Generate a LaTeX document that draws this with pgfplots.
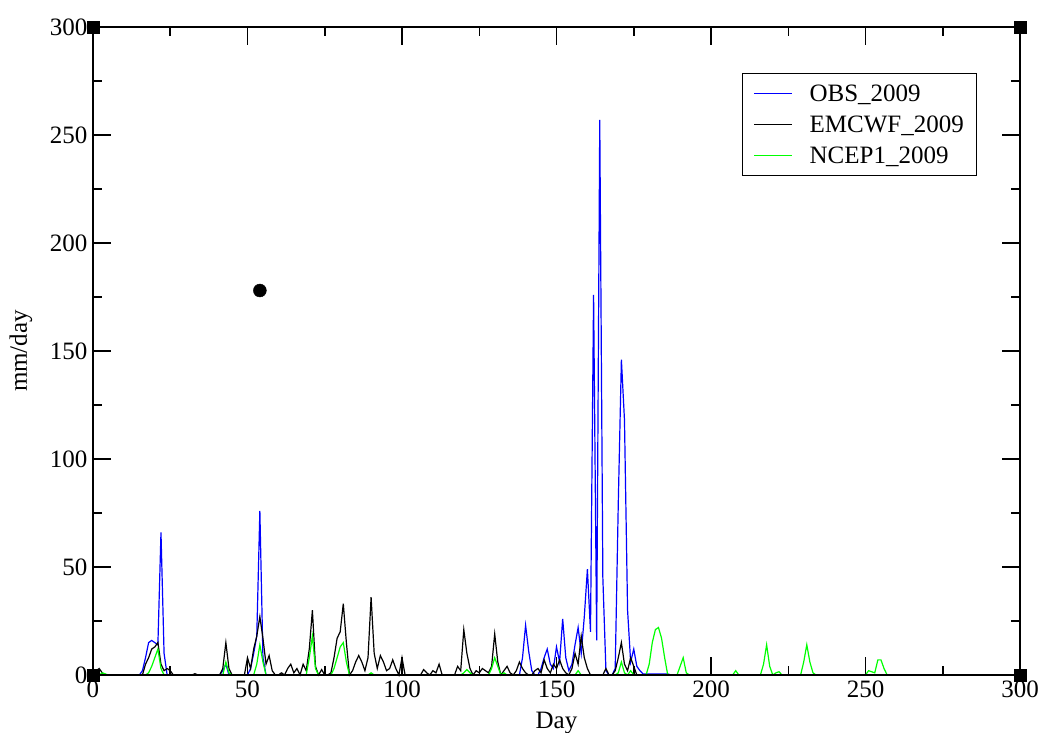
\documentclass[border=0pt]{standalone}
\usepackage{pgfplots}
\pgfplotsset{compat=1.18}
\usepackage{fontspec}
\setmainfont{Liberation Serif}
\begin{document}
\begin{tikzpicture}
\useasboundingbox (-93pt,-58pt) rectangle (949pt,675pt);
\begin{axis}[
  at={(0,0)}, anchor=south west,
  scale only axis, width=927pt, height=648pt,
  xmin=0, xmax=300, ymin=0, ymax=300,
  xtick={0,50,...,300}, ytick={0,50,...,300},
  minor x tick num=1, minor y tick num=1,
  tick align=inside,
  major tick length=18pt, minor tick length=9pt,
  every tick/.style={black, line width=1.5pt},
  axis line style={line width=1.5pt},
  clip=false,
  /pgf/number format/assume math mode=true,
  ticklabel style={font=\fontsize{25}{30}\selectfont},
  xticklabel style={yshift=-2pt},
  yticklabel style={xshift=-2pt},
  label style={font=\fontsize{25}{30}\selectfont},
  xlabel={Day},
  xlabel style={at={(axis description cs:0.5,-0.0818)}, anchor=base},
  ylabel={mm/day},
  ylabel style={at={(axis description cs:-0.0777,0.5)}, anchor=center, rotate=0},
  legend style={at={(axis description cs:0.700,0.929)}, anchor=north west,
    draw=black, line width=1pt, font=\fontsize{25}{30}\selectfont,
    inner xsep=11pt, inner ysep=9pt, row sep=9pt},
  legend cell align=left,
  legend image code/.code={\draw[#1] (0pt,0pt) -- (38pt,0pt);},
]
\addplot[blue, line width=1.2pt] coordinates {
(0,0)(15,0)(16,2)(17,8)(18,15)(19,16)(20,15)(21,14)(22,66)(23,10)(24,0)
(41,0)(42,2)(43,5)(44,0)
(50,0)(51,3)(52,10)(53,18)(54,76)(55,8)(56,0)
(138,0)(139,8)(140,23)(141,11)(142,2)(143,0)(144,0)(145,3)(146,8)(147,12)(148,5)(149,3)(150,13)(151,6)(152,26)(153,8)(154,2)(155,5)(156,14)(157,22)(158,10)(159,27)(160,49)(161,20)(162,176)(163,16)(164,257)(165,45)(166,2)(167,0)(168,0)(169,3)(170,80)(171,146)(172,118)(173,30)(174,6)(175,12)(176,4)(177,2)(178,0.5)(186,0.5)(187,0)(299,0)
};
\addlegendentry{\hspace{15pt}OBS\_2009}
\addplot[black, line width=1.2pt] coordinates {
(0,0)(1,2)(2,3)(3,1)(4,0)
(16,0)(17,5)(18,8)(19,12)(20,13)(21,15)(22,5)(23,2)(24,3)(25,2)(26,0)
(32,0)(33,0.6)(34,0)
(41,0)(42,3)(43,15)(44,3)(45,0)
(49,0)(50,8)(51,3)(52,12)(53,18)(54,27)(55,17)(56,5)(57,9)(58,2)(59,0)(60,0)(61,1)(62,0)(63,3)(64,5)(65,1)(66,3)(67,0)(68,5)(69,2)(70,12)(71,30)(72,4)(73,0)(74,2.5)(75,0)(76,0)(77,1)(78,8)(79,17)(80,20)(81,33)(82,15)(83,0)(84,2)(85,6)(86,9)(87,6)(88,2)(89,8)(90,36)(91,10)(92,3)(93,9)(94,6)(95,2)(96,3)(97,7)(98,3)(99,0)(100,8)(101,0)
(106,0)(107,2.5)(108,1)(109,0)(110,2)(111,1)(112,5)(113,0)
(117,0)(118,4)(119,2)(120,21)(121,10)(122,3)(123,0)(124,2)(125,1)(126,3)(127,2)(128,1)(129,4)(130,19)(131,6)(132,0)(133,2)(134,4)(135,1)(136,0)(137,2)(138,6)(139,3)(140,1)(141,0)(142,0)(143,2)(144,3)(145,1)(146,7)(147,3)(148,1)(149,5)(150,3)(151,7)(152,3)(153,1)(154,0)(155,3)(156,10)(157,5)(158,18)(159,8)(160,3)(161,0)
(165,0)(166,3)(167,0)(168,0)(169,2)(170,8)(171,15)(172,5)(173,2)(174,8)(175,4)(176,0)(299,0)
};
\addlegendentry{\hspace{15pt}EMCWF\_2009}
\addplot[green, line width=1.2pt] coordinates {
(0,0)(2,0)(3,1)(4,0.5)(5,0)
(17,0)(18,1)(19,4)(20,8)(21,12)(22,3)(23,0)
(42,0)(43,6)(44,1)(45,0)
(52,0)(53,5)(54,14)(55,6)(56,0)
(69,0)(70,8)(71,18)(72,3)(73,0)
(77,0)(78,3)(79,8)(80,13)(81,15)(82,6)(83,0)
(89,0)(90,1)(91,0)
(119,0)(120,1)(121,2.5)(122,1)(123,0)
(128,0)(129,3)(130,8)(131,4)(132,0)(133,1)(134,0)
(156,0)(157,2)(158,0)
(169,0)(170,1)(171,6)(172,1)(173,0)(174,2)(175,0)
(179,0)(180,5)(181,15)(182,21)(183,22)(184,17)(185,8)(186,0)
(189,0)(190,4)(191,8)(192,1)(193,0)
(207,0)(208,2)(209,0)
(216,0)(217,5)(218,14)(219,4)(220,0)(221,1)(222,1.5)(223,0)
(229,0)(230,6)(231,14)(232,6)(233,1)(234,0)
(250,0)(251,2)(252,1.5)(253,1)(254,7)(255,7)(256,3)(257,0)(299,0)
};
\addlegendentry{\hspace{15pt}NCEP1\_2009}
\addplot[forget plot, black, line width=1.5pt] coordinates {(0,0)(300,0)};
\addplot[forget plot, only marks, mark=*, mark size=6.5pt, black] coordinates {(54,178)};
\addplot[forget plot, only marks, mark=square*, mark size=6pt, black] coordinates {(0,0)(0,300)(300,0)(300,300)};
\end{axis}
\end{tikzpicture}
\end{document}
